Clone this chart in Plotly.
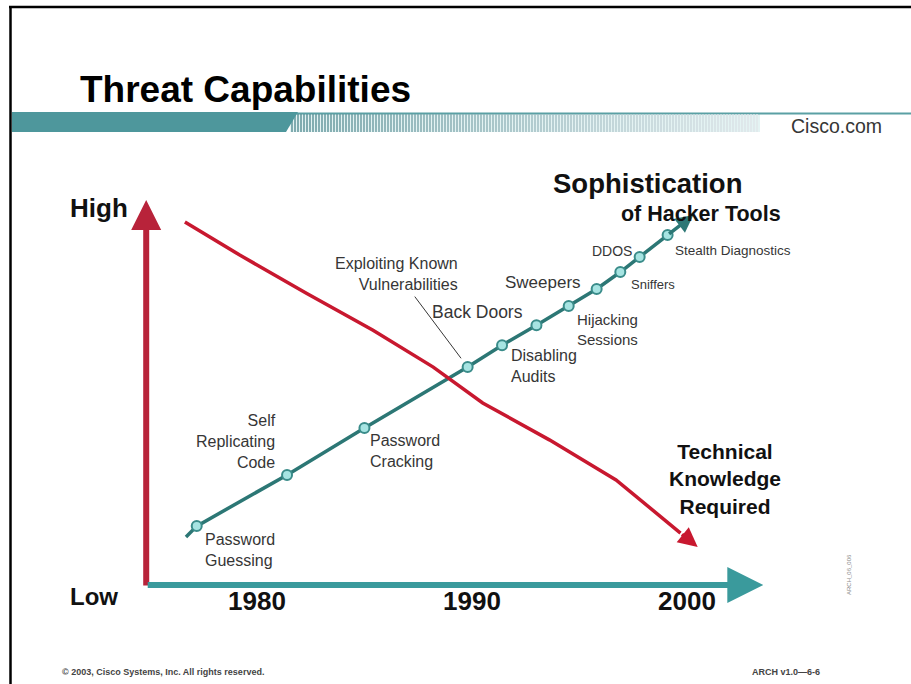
import plotly.graph_objects as go

# sophistication of hacker tools (teal curve)
tool_labels = ["Password<br>Guessing", "Self<br>Replicating<br>Code", "Password<br>Cracking",
               "Exploiting Known<br>Vulnerabilities", "Disabling<br>Audits", "Back Doors",
               "Hijacking<br>Sessions", "Sweepers", "Sniffers", "DDOS", "Stealth Diagnostics"]
tool_year = [1977.2, 1981.4, 1985.0, 1989.8, 1991.4, 1993.0, 1994.5, 1995.8, 1996.9, 1997.8, 1999.1]
tool_level = [1.53, 2.86, 4.08, 5.66, 6.23, 6.75, 7.25, 7.69, 8.13, 8.52, 9.09]
tool_start = (1976.7, 1.25)
tool_tip = (2000.3, 9.61)

# technical knowledge required (red curve)
knowledge_year = [1976.65, 1979.2, 1982.3, 1985.4, 1988.2, 1990.5, 1993.6, 1996.7, 1999.7]
knowledge_level = [9.43, 8.57, 7.58, 6.62, 5.66, 4.73, 3.77, 2.73, 1.35]
knowledge_tip = (2000.5, 0.99)

year_ticks = [1980, 1990, 2000]
level_names = ["High", "Low"]

# ---- layout constants ---------------------------------------------------
W, H = 911, 684
X_RANGE = [1968.05, 2010.42]
Y_RANGE = [-2.571, 15.195]
AXIS_X0, AXIS_X1 = 1974.85, 2003.55
LEVEL_LOW, LEVEL_HIGH = 0, 10.0
LEVEL_NAME_POS = [9.79, -0.29]

TEAL = "#2c7775"
RED = "#c8182f"
FONT = "Liberation Sans, Arial, sans-serif"
TXT = "#363636"

# label placement (xanchor, dx px, dy px of block centre, font size)
label_pos = [("left", 6, 24, 16), ("right", -9, -33, 16), ("left", 4, 23.5, 16),
             ("right", -8, -93, 16), ("left", 7, 20.5, 16), ("right", -11, -13, 17.5),
             ("left", 6, 23.5, 15), ("right", -14, -6, 17), ("left", 9, 12, 13),
             ("right", -6, -6, 14), ("left", 5, 15, 13.5)]


def px(x):
    return x / W


def py(y):
    return 1 - y / H


def note(x, y, text, size, color="#111", bold=True, xanchor="center", **kw):
    fig.add_annotation(x=px(x), y=py(y), xref="paper", yref="paper", text=text,
                       xanchor=xanchor, yanchor="middle", showarrow=False,
                       font=dict(family=FONT, size=size, color=color,
                                 weight="bold" if bold else "normal"), **kw)


fig = go.Figure()

fig.add_trace(go.Scatter(x=[tool_start[0]] + tool_year, y=[tool_start[1]] + tool_level,
                         mode="lines", line=dict(color=TEAL, width=3.5), hoverinfo="skip"))
fig.add_trace(go.Scatter(x=knowledge_year, y=knowledge_level, mode="lines",
                         line=dict(color=RED, width=3.5), hoverinfo="skip"))
fig.add_trace(go.Scatter(x=tool_year, y=tool_level, mode="markers", hoverinfo="skip",
                         marker=dict(size=10, color="#a6e4e2", line=dict(color="#3a8c8a", width=2))))

# arrow heads on the curves and the axes
arrows = [
    (tool_tip, (tool_year[-1], tool_level[-1]), TEAL, 3.5, 1.0),
    (knowledge_tip, (knowledge_year[-1], knowledge_level[-1]), RED, 3.5, 1.1),
    ((AXIS_X0, LEVEL_HIGH), (AXIS_X0, LEVEL_LOW - 0.05), "#b8233a", 6, 1.0),
    ((AXIS_X1, LEVEL_LOW), (AXIS_X0, LEVEL_LOW), "#3a9a9c", 6, 1.2),
]
for (tx, ty), (sx, sy), col, w, s in arrows:
    fig.add_annotation(x=tx, y=ty, ax=sx, ay=sy, xref="x", yref="y", axref="x", ayref="y",
                       text="", showarrow=True, arrowhead=2, arrowsize=s, arrowwidth=w,
                       arrowcolor=col)

# tool labels
for name, x, y, (anc, dx, dy, fs) in zip(tool_labels, tool_year, tool_level, label_pos):
    fig.add_annotation(x=x, y=y, text=name, showarrow=False, xanchor=anc, yanchor="middle",
                       align=anc, xshift=dx, yshift=-dy,
                       font=dict(family=FONT, size=fs, color=TXT))

# leader for "Exploiting Known Vulnerabilities"
fig.add_annotation(x=tool_year[3], y=tool_level[3], text="", showarrow=True, arrowhead=0,
                   ax=-54, ay=-72, standoff=11, arrowwidth=1, arrowcolor=TXT)

for name, lv in zip(level_names, LEVEL_NAME_POS):
    fig.add_annotation(x=AXIS_X0, y=lv, text=name, showarrow=False, xanchor="right",
                       yanchor="middle", xshift=-16 if name == "High" else -26,
                       font=dict(family=FONT, size=26 if name == "High" else 24,
                                 color="#111", weight="bold"))

note(783, 197, "<span style='font-size:27.5px'>Sophistication" + "\u00a0" * 5 + "</span>"
     "<br>of Hacker Tools", 21.5, xanchor="right", align="right")
note(725, 479, "Technical<br>Knowledge<br>Required", 21)

# slide chrome
note(78, 90, "Threat Capabilities", 37, color="#000", xanchor="left")
note(836, 126, "Cisco.com", 19.5, color=TXT, bold=False)
note(60, 672, "© 2003, Cisco Systems, Inc. All rights reserved.", 9, color="#444", xanchor="left")
note(822, 672, "ARCH v1.0—6-6", 9, color="#444", xanchor="right")
note(849, 575, "ARCH_06_006", 6, color="#888", bold=False, textangle=-90)

P = dict(xref="paper", yref="paper")
shapes = [
    dict(type="line", x0=px(9), x1=1, y0=py(7), y1=py(7), line=dict(color="#000", width=2.5), **P),
    dict(type="line", x0=px(10.5), x1=px(10.5), y0=py(7), y1=0, line=dict(color="#000", width=2.5), **P),
    dict(type="rect", x0=px(290), x1=px(760), y0=py(113), y1=py(132), fillcolor="#e4f3f3",
         line=dict(width=0), **P),
    dict(type="line", x0=px(290), x1=1, y0=py(113.5), y1=py(113.5), line=dict(color="#5aa0a4", width=2), **P),
]
for x in range(292, 760, 3):
    f = (x - 292) / (760 - 292)
    r = int(85 + f * 140)
    g = int(140 + f * 90)
    b = int(146 + f * 88)
    shapes.append(dict(type="line", x0=px(x), x1=px(x), y0=py(114), y1=py(132),
                       line=dict(color=f"rgb({r},{g},{b})", width=1.4), **P))
shapes.append(dict(type="path",
                   path=f"M{px(12)},{py(112)} L{px(298)},{py(112)} L{px(286)},{py(132)} L{px(12)},{py(132)} Z",
                   fillcolor="#4e979c", line=dict(width=0), **P))

fig.update_layout(
    width=W, height=H, margin=dict(l=0, r=0, t=0, b=0),
    paper_bgcolor="white", plot_bgcolor="white", showlegend=False, hovermode=False,
    shapes=shapes,
    xaxis=dict(range=X_RANGE, showgrid=False, zeroline=False, showline=False, ticks="",
               tickvals=year_ticks, ticktext=[str(y) for y in year_ticks],
               anchor="free", position=py(583),
               tickfont=dict(family=FONT, size=26, color="#111", weight="bold")),
    yaxis=dict(range=Y_RANGE, visible=False),
)

fig.write_html("out.html", config={"displayModeBar": False},
               post_script="document.body.style.margin='0px';")
